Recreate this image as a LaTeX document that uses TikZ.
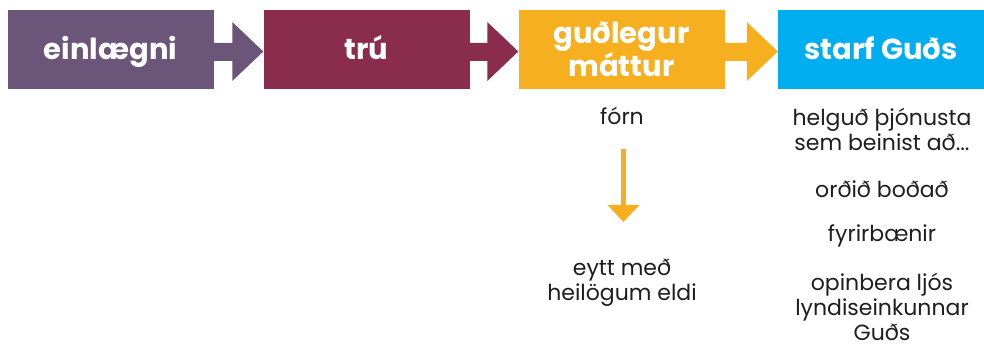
\documentclass[tikz,border=0pt]{standalone}
\usepackage{fontspec}
\setmainfont{Poppins}
\usetikzlibrary{calc,arrows.meta}
\definecolor{cpurple}{HTML}{6B5679}
\definecolor{cmaroon}{HTML}{8A2C4C}
\definecolor{corange}{HTML}{F5AF1F}
\definecolor{cblue}{HTML}{00AEEF}
\definecolor{ctext}{HTML}{1E1E1E}
\newcommand\myarrow[3]{%
  \fill[#3] (#1.east |- 0,43) -- ($(#2.west |- 0,43)+(-31,0)$) -- ($(#2.west |- 0,22)+(-31,0)$)
    -- (#2.west |- 0,51.5) -- ($(#2.west |- 0,81)+(-31,0)$) -- ($(#2.west |- 0,61)+(-31,0)$)
    -- (#1.east |- 0,61) -- cycle;}
\tikzset{
  box/.style={minimum width=206pt, minimum height=79pt, inner sep=0pt, text=white,
    font=\fontsize{29}{32}\selectfont\bfseries, align=center},
  onebox/.style={box, text height=21pt, text depth=0pt},
  lbl/.style={text=ctext, font=\fontsize{22}{25}\selectfont, align=center, inner sep=0pt}
}
\begin{document}
\begin{tikzpicture}[x=1pt,y=-1pt]
\useasboundingbox (0,0) rectangle (984,347);
\node[onebox, fill=cpurple] (b1) at (110.5,49.5) {einlægni};
\node[onebox, fill=cmaroon] (b2) at (366.5,49.5) {trú};
\node[box, fill=corange] (b3) at (621.5,49.5) {guðlegur\\máttur};
\node[onebox, fill=cblue] (b4) at (881,49.5) {starf Guðs};
\myarrow{b1}{b2}{cpurple}
\myarrow{b2}{b3}{cmaroon}
\myarrow{b3}{b4}{corange}
\node[lbl] (forn) at (622,116) {fórn};
\node[lbl] (eytt) at (622,283) {eytt með\\heilögum eldi};
\coordinate (dtop) at (623.5,149);
\coordinate (dbot) at (623.5,222);
\draw[corange, line width=5pt, -{Triangle[length=17pt,width=31pt]}] (dtop) -- (dbot);
\node[lbl] (s1) at (882,129) {helguð þjónusta\\sem beinist að...};
\node[lbl] (s2) at (882,189) {orðið boðað};
\node[lbl] (s3) at (882,236) {fyrirbænir};
\node[lbl] (s4) at (882,307) {opinbera ljós\\lyndiseinkunnar\\Guðs};
\end{tikzpicture}
\end{document}
